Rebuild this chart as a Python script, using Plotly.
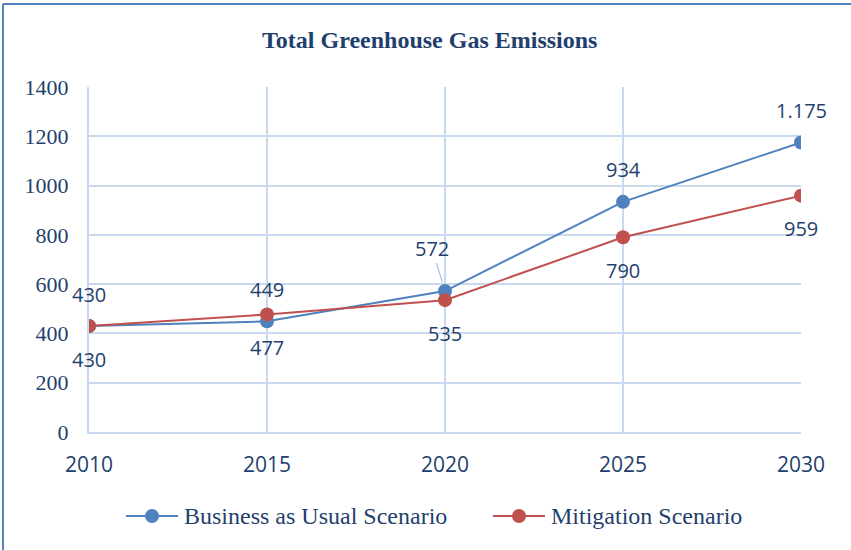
import plotly.graph_objects as go

years = [2010, 2015, 2020, 2025, 2030]
bau_values = [430, 449, 572, 934, 1175]
mit_values = [430, 477, 535, 790, 959]
bau_labels = ["430", "449", "572", "934", "1.175"]
mit_labels = ["430", "477", "535", "790", "959"]
y_ticks = [0, 200, 400, 600, 800, 1000, 1200, 1400]
series_names = ["Business as Usual Scenario", "Mitigation Scenario"]

BLUE = "#4F81BD"
RED = "#C0504D"
TXT = "#1F3F6E"
GRID = "#C9DAF0"
SERIF = "Liberation Serif, Times New Roman, serif"
SANS = "Open Sans, sans-serif"

fig = go.Figure()
fig.add_trace(go.Scatter(x=years, y=bau_values, mode="lines+markers",
                         name=series_names[0],
                         line=dict(color=BLUE, width=2),
                         marker=dict(size=14, color=BLUE)))
fig.add_trace(go.Scatter(x=years, y=mit_values, mode="lines+markers",
                         name=series_names[1],
                         line=dict(color=RED, width=2),
                         marker=dict(size=14, color=RED)))

annotations = []
lab_font = dict(family=SANS, size=20, color=TXT)
for x, y, t in zip(years, bau_values, bau_labels):
    if t == "572":
        annotations.append(dict(x=x, y=y, xref="x", yref="y", text=t, showarrow=True,
                                arrowhead=0, arrowwidth=1, arrowcolor="#8EB4E3",
                                ax=-13, ay=-43, standoff=9, font=lab_font))
    else:
        annotations.append(dict(x=x, y=y, xref="x", yref="y", text=t, showarrow=False,
                                yshift=32, font=lab_font))
for x, y, t in zip(years, mit_values, mit_labels):
    annotations.append(dict(x=x, y=y, xref="x", yref="y", text=t, showarrow=False,
                            yshift=-33, font=lab_font))

# manual legend (pixel layout converted to paper coordinates)
L, T, W, H = 89, 87, 712, 345
def px(x):
    return (x - L) / W
def py(y):
    return (T + H - y) / H

shapes = [
    dict(type="line", xref="paper", yref="paper", x0=px(3), x1=px(3),
         y0=py(560), y1=py(4), line=dict(color=BLUE, width=2)),
    dict(type="line", xref="paper", yref="paper", x0=px(3), x1=px(860),
         y0=py(4), y1=py(4), line=dict(color=BLUE, width=2)),
]
legend_items = [(126, BLUE, series_names[0]), (493, RED, series_names[1])]
ly = 516
for x0, col, name in legend_items:
    shapes.append(dict(type="line", xref="paper", yref="paper", x0=px(x0), x1=px(x0 + 52),
                       y0=py(ly), y1=py(ly), line=dict(color=col, width=2)))
    shapes.append(dict(type="circle", xref="paper", yref="paper",
                       x0=px(x0 + 26 - 7), x1=px(x0 + 26 + 7),
                       y0=py(ly + 7), y1=py(ly - 7),
                       fillcolor=col, line=dict(color=col, width=0)))
    annotations.append(dict(x=px(x0 + 56), y=py(ly), xref="paper", yref="paper",
                            xanchor="left", yanchor="middle", text=name, showarrow=False,
                            font=dict(family=SERIF, size=24, color=TXT)))

fig.update_layout(
    width=851, height=550,
    margin=dict(l=L, r=851 - L - W, t=T, b=550 - T - H),
    paper_bgcolor="white", plot_bgcolor="white",
    title=dict(text="<b>Total Greenhouse Gas Emissions</b>", x=0.505, xanchor="center",
               y=1 - 40 / 550, yanchor="middle", yref="container",
               font=dict(family=SERIF, size=24, color=TXT)),
    xaxis=dict(range=[2010, 2030], tickvals=years, ticktext=[str(y) for y in years],
               showgrid=True, gridcolor=GRID, gridwidth=2, zeroline=False,
               showline=True, linecolor=GRID, linewidth=2,
               tickfont=dict(family=SANS, size=21, color=TXT),
               ticklabelstandoff=13, ticks=""),
    yaxis=dict(range=[0, 1400], tickvals=y_ticks,
               showgrid=True, gridcolor=GRID, gridwidth=2, zeroline=False,
               showline=True, linecolor=GRID, linewidth=2,
               tickfont=dict(family=SERIF, size=22, color=TXT),
               ticklabelstandoff=14, ticks=""),
    showlegend=False,
    annotations=annotations,
    shapes=shapes,
)

fig.write_html("out.html")
